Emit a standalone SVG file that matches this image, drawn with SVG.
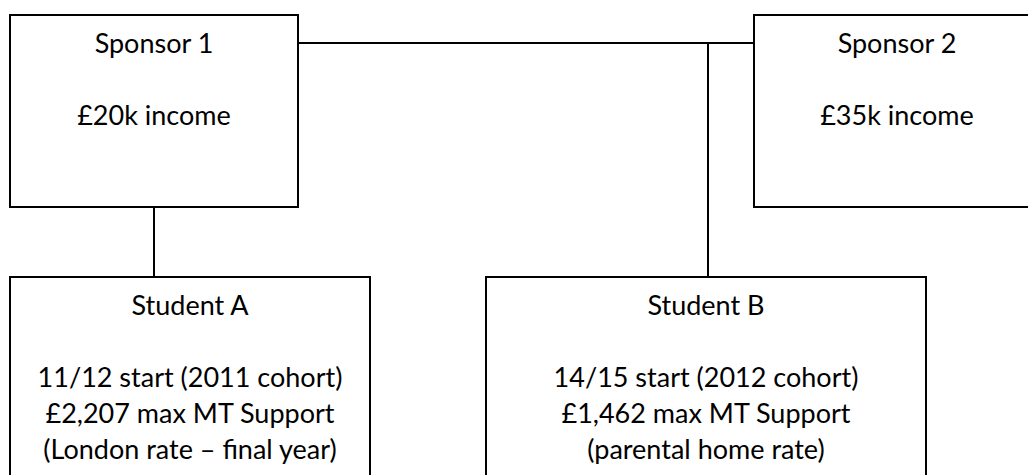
<svg xmlns="http://www.w3.org/2000/svg" width="1028" height="475" viewBox="0 0 1028 475">
<style>
.box{fill:#fff;stroke:#000;stroke-width:2}
.conn{stroke:#000;stroke-width:2;fill:none}
text{font-family:Lato,"Liberation Sans",sans-serif;font-size:27px;fill:#000;text-anchor:middle}
</style>
<rect width="1028" height="475" fill="#fff"/>
<g id="connectors">
<line class="conn" x1="298" y1="43" x2="754" y2="43"/>
<line class="conn" x1="708" y1="43" x2="708" y2="277"/>
<line class="conn" x1="154" y1="207" x2="154" y2="277"/>
</g>
<g id="sponsor1">
<rect class="box" x="10" y="15" width="288" height="192"/>
<text x="154" y="53">Sponsor 1</text>
<text x="154" y="125">£20k income</text>
</g>
<g id="sponsor2">
<rect class="box" x="754" y="15" width="286" height="192"/>
<text x="897" y="53">Sponsor 2</text>
<text x="897" y="125">£35k income</text>
</g>
<g id="studentA">
<rect class="box" x="10" y="277" width="360" height="220"/>
<text x="190" y="315">Student A</text>
<text x="190" y="387">11/12 start (2011 cohort)</text>
<text x="190" y="423">£2,207 max MT Support</text>
<text x="190" y="459">(London rate – final year)</text>
</g>
<g id="studentB">
<rect class="box" x="486" y="277" width="440" height="220"/>
<text x="706" y="315">Student B</text>
<text x="706" y="387">14/15 start (2012 cohort)</text>
<text x="706" y="423">£1,462 max MT Support</text>
<text x="706" y="459">(parental home rate)</text>
</g>
</svg>
